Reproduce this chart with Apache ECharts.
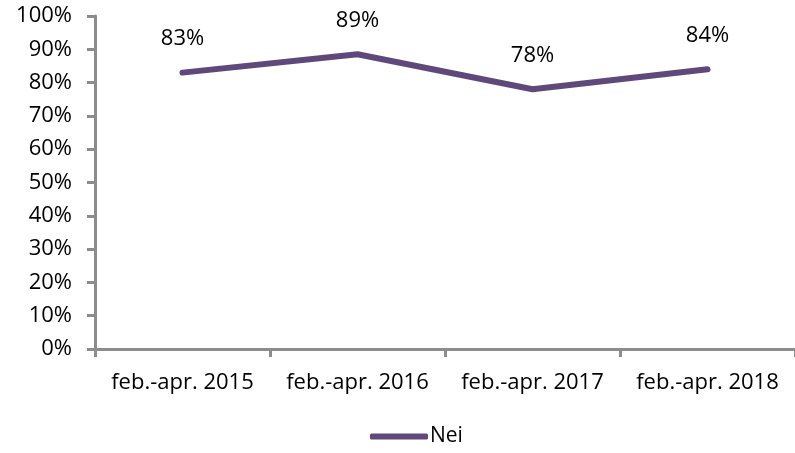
<!DOCTYPE html>
<html>
<head>
<meta charset="utf-8">
<script src="https://cdn.jsdelivr.net/npm/echarts@6/dist/echarts.min.js"></script>
<style>
  html, body { margin: 0; padding: 0; background: #fff; }
  #chart { width: 795px; height: 453px; }
</style>
</head>
<body>
<div id="chart"></div>
<script>
const categories = ['feb.-apr. 2015', 'feb.-apr. 2016', 'feb.-apr. 2017', 'feb.-apr. 2018'];
const neiValues = [83, 88.5, 78, 84];
const neiLabels = ['83%', '89%', '78%', '84%'];

const chart = echarts.init(document.getElementById('chart'));
const font = 'Open Sans';

chart.setOption({
  animation: false,
  grid: { left: 95, right: -1, top: 16, bottom: 104 },
  legend: {
    bottom: 1,
    left: 365,
    itemWidth: 58,
    itemHeight: 6,
    itemGap: 4,
    data: [{ name: 'Nei', icon: 'roundRect' }],
    textStyle: { fontFamily: font, fontSize: 21, color: '#000', padding: [0, 0, 0, -3] }
  },
  xAxis: {
    type: 'category',
    data: categories,
    boundaryGap: true,
    axisLine: { lineStyle: { color: '#8c8c8c', width: 3 } },
    axisTick: { show: true, interval: 0, length: 8, lineStyle: { color: '#8c8c8c', width: 3 } },
    axisLabel: { interval: 0, fontFamily: font, fontSize: 22, color: '#000', margin: 23 }
  },
  yAxis: {
    type: 'value',
    min: 0,
    max: 100,
    interval: 10,
    splitLine: { show: false },
    axisLine: { show: true, lineStyle: { color: '#8c8c8c', width: 3 } },
    axisTick: { show: true, length: 8, lineStyle: { color: '#8c8c8c', width: 3 } },
    axisLabel: { fontFamily: font, fontSize: 22, color: '#000', margin: 23, formatter: '{value}%' }
  },
  series: [{
    name: 'Nei',
    type: 'line',
    data: neiValues,
    symbol: 'circle',
    symbolSize: 1,
    showSymbol: true,
    lineStyle: { color: '#5f497a', width: 6, cap: 'round', join: 'round' },
    itemStyle: { color: '#5f497a' },
    label: {
      show: true,
      position: 'top',
      distance: 22,
      fontFamily: font,
      fontSize: 22,
      color: '#000',
      formatter: p => neiLabels[p.dataIndex]
    }
  }]
});
</script>
</body>
</html>
